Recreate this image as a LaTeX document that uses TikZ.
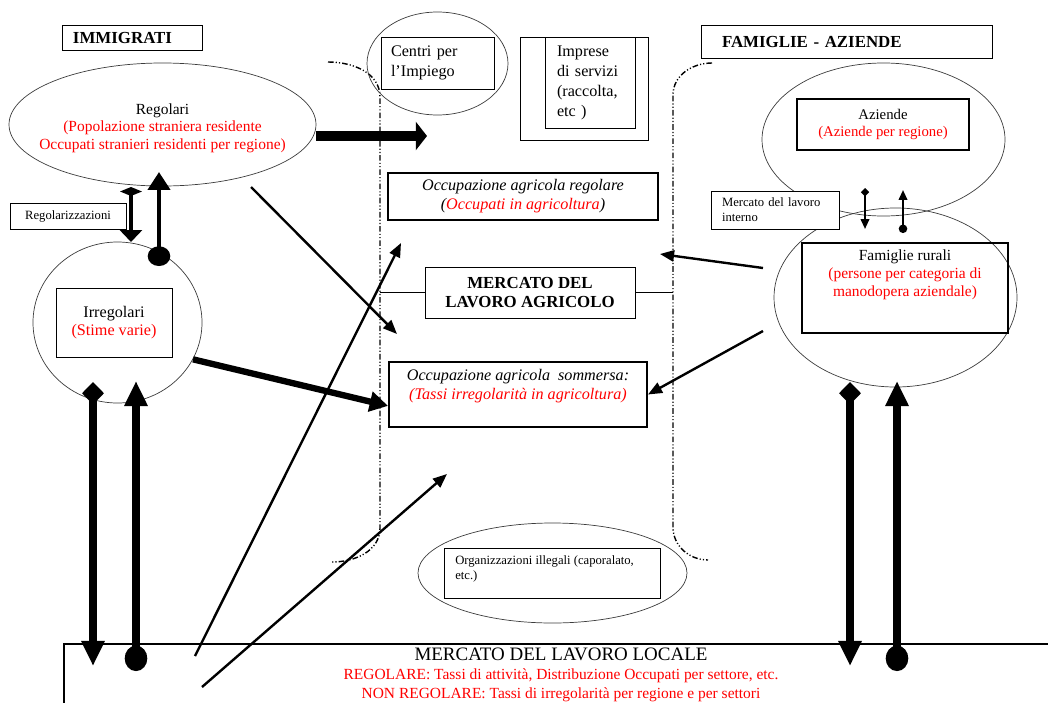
\documentclass[tikz,border=0pt]{standalone}
\usepackage{fontspec}
\setmainfont{Liberation Serif}
\usetikzlibrary{shapes.geometric,arrows.meta}

\begin{document}
\begin{tikzpicture}[x=0.25mm,y=-0.25mm]
% Colors define
\definecolor{myRed}{HTML}{FF0000}
\definecolor{myGray}{HTML}{3C3C3C}

% Styles
\tikzset{
  box/.style={draw,line width=0.7pt,inner sep=0pt,fill=white},
  boldbox/.style={draw,line width=1.4pt,inner sep=0pt},
  oval/.style={ellipse,draw=myGray,line width=0.5pt,inner sep=0pt},
  txt/.style={align=center,inner sep=0pt,font=\fontsize{11}{12.5}\selectfont},
  titletxt/.style={font=\fontsize{12}{13.5}\selectfont\bfseries},
  small/.style={align=left,inner sep=0pt,font=\fontsize{9}{10.8}\selectfont},
  limit/.style={line width=1pt,dash pattern=on 4pt off 1.5pt on 0.8pt off 1.5pt on 0.8pt off 1.5pt},
  flowline/.style={line width=1.7pt,-{Triangle[width=8pt,length=10pt]}},
  downflow/.style={line width=5pt,{Diamond[width=15.6pt,length=16pt]}-{Triangle[width=15.6pt,length=17.8pt]}},
  upflow/.style={line width=5pt,{Ellipse[width=16pt,length=18pt]}-{Triangle[width=15.6pt,length=17.8pt]}}
}

\useasboundingbox (0,0) rectangle (1048,702);

% Dash-dot limits of the agricultural market
\draw[limit] (328,62) to[out=0,in=90] (380,97) -- (380,528) to[out=-90,in=0] (332,562);
\draw[limit] (712,63) to[out=180,in=90] (673,95) -- (673,527) to[out=-90,in=180] (708,560);

% Bottom: local labour market
\node[draw,line width=1.6pt,minimum width=249mm,minimum height=19mm,inner sep=0pt] (MLL) at (562,682) {};
\node[txt,font=\fontsize{11}{13.4}\selectfont] (MLLt) at (561,675) {{\fontsize{13.5}{13.4}\selectfont MERCATO DEL LAVORO LOCALE}\\ \textcolor{myRed}{REGOLARE: Tassi di attività, Distribuzione Occupati per settore, etc.}\\ \textcolor{myRed}{NON REGOLARE: Tassi di irregolarità per regione e per settori}};

% Left side: immigrants
\node[box,minimum width=35mm,minimum height=6.25mm,text width=29.5mm,align=left,titletxt] (IMM) at (132,37.5) {IMMIGRATI};
\node[oval,minimum width=76.75mm,minimum height=30.75mm] (REG) at (162.5,124.5) {};
\node[txt] (REGt) at (162.5,128) {Regolari\\ \textcolor{myRed}{(Popolazione straniera residente}\\ \textcolor{myRed}{Occupati stranieri residenti per regione)}};
\node[box,minimum width=29mm,minimum height=6.5mm,small,align=center] (REGZ) at (68,216) {Regolarizzazioni};
\node[oval,minimum width=42.25mm,minimum height=40.25mm] (IRR) at (117.5,322.5) {};
\node[box,minimum width=29mm,minimum height=17.25mm,txt,font=\fontsize{11.5}{13}\selectfont] (IRRb) at (114,322.5) {Irregolari\\ \textcolor{myRed}{(Stime varie)}};

% Middle: agricultural labour market
\node[oval,minimum width=35.25mm,minimum height=25.75mm] (CPI) at (437.5,63.5) {};
\node[box,minimum width=28.25mm,minimum height=13mm,text width=23.25mm,align=left,font=\fontsize{11.5}{14.2}\selectfont] (CPIb) at (437.5,63) {Centri per\\ l'Impiego};
\node[box,minimum width=32mm,minimum height=25.75mm] (IMPo) at (584,88.5) {};
\node[box,minimum width=22.5mm,minimum height=22.75mm,text width=16.5mm,align=left,font=\fontsize{11.5}{14.2}\selectfont] (IMP) at (590,82.5) {Imprese\\ di servizi\\ (raccolta,\\ etc )};
\node[boldbox,minimum width=67.5mm,minimum height=11.75mm,txt,font=\fontsize{11.5}{13.5}\selectfont\itshape] (OAR) at (523,196.5) {Occupazione agricola regolare\\ (\textcolor{myRed}{Occupati in agricoltura})};
\node[box,minimum width=52.5mm,minimum height=12.75mm,txt,titletxt] (MLA) at (530,292.5) {MERCATO DEL\\ LAVORO AGRICOLO};
\node[boldbox,minimum width=64.5mm,minimum height=16.25mm] (OAS) at (518,394.5) {};
\node[txt,font=\fontsize{11.5}{13.5}\selectfont\itshape] (OASt) at (518,386) {Occupazione agricola\ \ sommersa:\\ \textcolor{myRed}{(Tassi irregolarità in agricoltura)}};
\node[oval,minimum width=67.25mm,minimum height=25mm] (ORG) at (552.5,573) {};
\node[box,minimum width=54mm,minimum height=12.5mm] (ORGb) at (552,573) {};
\node[small,anchor=west] (ORGt) at (455,569) {Organizzazioni illegali (caporalato,\\ etc.)};

% Right side: families and farms
\node[box,minimum width=72.75mm,minimum height=8.25mm,text width=62.25mm,align=left,titletxt] (FAM) at (846.5,41.5) {FAMIGLIE - AZIENDE};
\node[oval,minimum width=60.75mm,minimum height=38.25mm] (AZ) at (883.5,139.5) {};
\node[boldbox,minimum width=43mm,minimum height=12.75mm,txt,font=\fontsize{10.5}{12.5}\selectfont] (AZb) at (883,124.5) {Aziende\\ \textcolor{myRed}{(Aziende per regione)}};
\node[oval,minimum width=60.75mm,minimum height=44.75mm] (FR) at (895.5,297.5) {};
\node[boldbox,minimum width=51.5mm,minimum height=22.5mm] (FRb) at (905,288) {};
\node[txt,font=\fontsize{11}{13}\selectfont] (FRt) at (905,275) {Famiglie rurali\\ \textcolor{myRed}{(persone per categoria di}\\ \textcolor{myRed}{manodopera aziendale)}};
\node[box,minimum width=32mm,minimum height=9.5mm,small,text width=26.5mm,font=\fontsize{9}{10.7}\selectfont] (MLI) at (775,210) {Mercato del lavoro\\ interno};

% Free ends of the arrows
\coordinate (ma) at (427,136);
\coordinate (ra) at (251,187);
\coordinate (rb) at (397,334);
\coordinate (rz1) at (131,187);
\coordinate (rz2) at (131,242);
\coordinate (up1) at (159,266);
\coordinate (up2) at (159,172);
\coordinate (la1) at (195,656);
\coordinate (la2) at (401,243);
\coordinate (lb1) at (202,687);
\coordinate (lb2) at (447,474);
\coordinate (fa1) at (763,268);
\coordinate (fa2) at (660,254);
\coordinate (fb1) at (763,331);
\coordinate (az1) at (865,188);
\coordinate (az2) at (865,229);
\coordinate (az3) at (903,233);
\coordinate (az4) at (903,190);
\coordinate (bl) at (380,292.5);
\coordinate (br) at (673,292.5);

% Lines to the dash-dot limits
\draw[line width=1.4pt] (bl) -- (MLA.west);
\draw[line width=1.4pt] (MLA.east) -- (br);

% Arrows
\draw[line width=7pt,-{Triangle[width=20pt,length=8pt]}] (REG.east |- ma) -- (ma);
\draw[line width=4.5pt,-{Triangle[width=14pt,length=13pt]}] (IRR.-26) -- (OAS.185);
\draw[flowline] (ra) -- (rb);
\draw[flowline] (la1) -- (la2);
\draw[flowline] (lb1) -- (lb2);
\draw[flowline] (fa1) -- (fa2);
\draw[flowline] (fb1) -- (OAS.east);
\draw[line width=3pt,{Diamond[width=15.6pt,length=6.4pt]}-{Triangle[width=15.6pt,length=8.5pt]}] (rz1) -- (rz2);
\draw[line width=3.5pt,{Ellipse[width=16pt,length=14pt]}-{Triangle[width=15.6pt,length=12.8pt]}] (up1) -- (up2);
\draw[line width=1.4pt,{Diamond[width=6pt,length=6pt]}-{Triangle[width=6pt,length=7pt]}] (az1) -- (az2);
\draw[line width=1.4pt,{Circle[length=6pt]}-{Triangle[width=6pt,length=7pt]}] (az3) -- (az4);

% Thick arrows to and from the local market
\foreach \x/\n in {93/L,850/R} {
  \coordinate (dt\n) at (\x,382);
  \coordinate (db\n) at (\x,666);
  \draw[downflow] (dt\n) -- (db\n);
}
\foreach \x/\n in {136/L,897/R} {
  \coordinate (ut\n) at (\x,381);
  \coordinate (ub\n) at (\x,671);
  \draw[upflow] (ub\n) -- (ut\n);
}
\end{tikzpicture}
\end{document}
